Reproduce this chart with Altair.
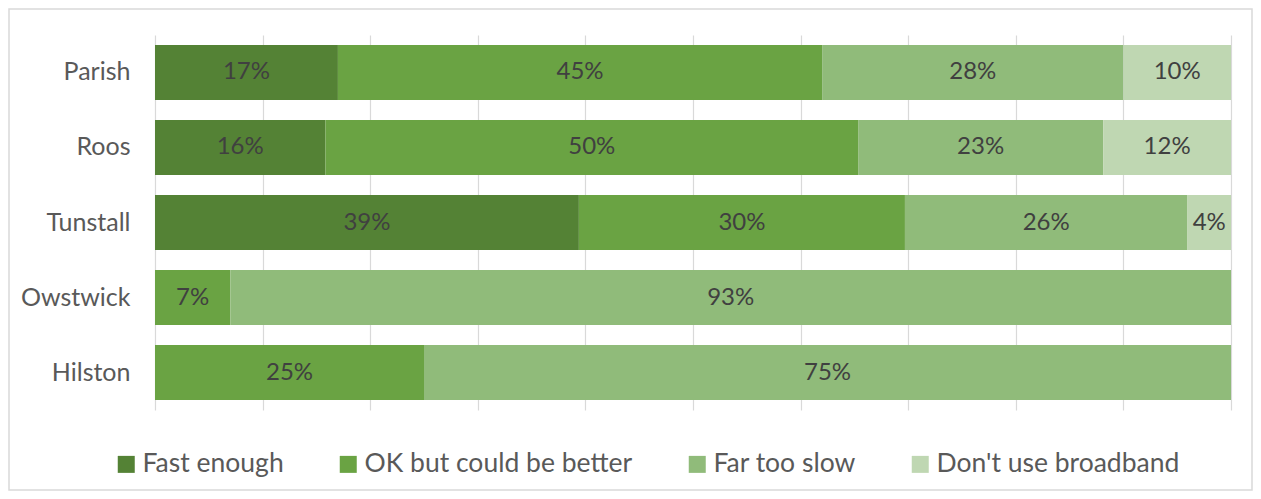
import altair as alt
import pandas as pd

places = ["Parish", "Roos", "Tunstall", "Owstwick", "Hilston"]
categories = ["Fast enough", "OK but could be better", "Far too slow", "Don't use broadband"]
fast_enough = [17, 16, 39, 0, 0]
ok_better = [45, 50, 30, 7, 25]
far_too_slow = [28, 23, 26, 93, 75]
dont_use = [10, 12, 4, 0, 0]
colors = ["#548235", "#6aa343", "#90bb7a", "#bfd7b2"]
grid_values = [0, 0.1, 0.2, 0.3, 0.4, 0.5, 0.6, 0.7, 0.8, 0.9, 1.0]

FONT = "Lato"
W, H = 1076, 375
PAD = {"left": 147, "top": 27, "right": 22, "bottom": 81}

rows = []
for i, p in enumerate(places):
    for j, vals in enumerate([fast_enough, ok_better, far_too_slow, dont_use]):
        v = vals[i]
        if v > 0:
            rows.append({"place": p, "cat": categories[j], "order": j, "value": v, "label": f"{v}%"})
df = pd.DataFrame(rows)

base = alt.Chart(df).transform_stack(
    stack="value", groupby=["place"], as_=["v0", "v1"], offset="normalize",
    sort=[alt.SortField("order", order="ascending")]
).transform_calculate(mid="(datum.v0 + datum.v1) / 2")

y_enc = alt.Y(
    "place:N", sort=places,
    scale=alt.Scale(paddingInner=0.2667, paddingOuter=0.1333),
    axis=alt.Axis(title=None, ticks=False, domain=False, grid=False,
                  labelFont=FONT, labelFontSize=25, labelColor="#595959",
                  labelPadding=25),
)

bars = base.mark_bar().encode(
    y=y_enc,
    x=alt.X("v0:Q", scale=alt.Scale(domain=[0, 1]),
            axis=alt.Axis(title=None, labels=False, ticks=False, domain=False,
                          grid=True, gridColor="#d9d9d9", gridWidth=1.2,
                          values=grid_values)),
    x2="v1:Q",
    color=alt.Color(
        "cat:N", sort=categories,
        scale=alt.Scale(domain=categories, range=colors),
        legend=alt.Legend(
            title=None, orient="none", legendX=-42, legendY=416,
            direction="horizontal", columns=4, symbolType="square",
            symbolSize=289, symbolStrokeWidth=0, labelFont=FONT,
            labelFontSize=26.5, labelColor="#595959", labelLimit=500,
            labelOffset=3, columnPadding=51, padding=0,
        ),
    ),
)

text = base.mark_text(font=FONT, fontSize=24, color="#404040").encode(
    y=alt.Y("place:N", sort=places),
    x=alt.X("mid:Q"),
    text="label:N",
)

frame = alt.Chart(alt.Data(values=[{"a": 1}])).mark_rect(
    filled=False, stroke="#d9d9d9", strokeWidth=1.5
).encode(
    x=alt.value(-PAD["left"] + 1),
    x2=alt.value(W + PAD["right"] - 1),
    y=alt.value(-PAD["top"] + 1),
    y2=alt.value(H + PAD["bottom"] - 1),
)

chart = alt.layer(frame, bars, text).properties(
    width=W, height=H,
    autosize=alt.AutoSizeParams(type="none"),
    padding=PAD,
    background="white",
).configure_view(stroke="transparent")

chart.save("out.html", embed_options={"renderer": "svg", "actions": False})
